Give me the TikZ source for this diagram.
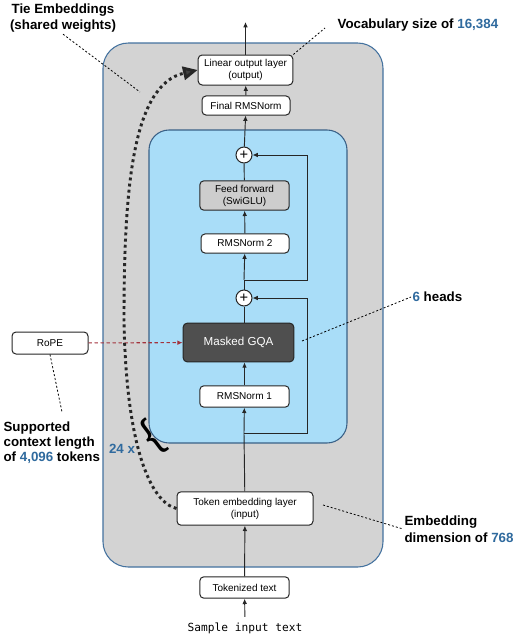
\documentclass[tikz,border=0pt]{standalone}
\usepackage{fontspec}
\setmainfont{Liberation Sans}
\setmonofont{DejaVu Sans Mono}
\usetikzlibrary{arrows.meta}

\definecolor{boxgray}{HTML}{D3D3D3}
\definecolor{blockblue}{HTML}{A9DDF8}
\definecolor{edgeblue}{HTML}{44729F}
\definecolor{numblue}{HTML}{2F6A9E}
\definecolor{gqagray}{HTML}{4F4F4F}
\definecolor{ffgray}{HTML}{CDCDCD}
\definecolor{ropered}{HTML}{A3323C}
\newcommand{\bluenum}[1]{\textcolor{numblue}{#1}}

\begin{document}
\begin{tikzpicture}[
	x 		= 0.75pt,
	y 		= -0.75pt,
	layer/.style 	= {draw=black!85, line width=0.75pt, fill=white, rounded corners=3pt,
		align=center, inner sep=1pt, font=\fontsize{7.5}{9}\selectfont},
	addnode/.style 	= {circle, draw=black!85, line width=0.75pt, fill=white,
		minimum size=12pt, inner sep=0pt, font=\fontsize{11}{11}\selectfont},
	flow/.style 	= {line width=0.7pt, draw=black!85, -{Latex[length=4pt,width=3.5pt]}},
	plain/.style 	= {line width=0.7pt, draw=black!85},
	note/.style 	= {inner sep=1pt, font=\fontsize{10}{12.5}\selectfont\bfseries},
	pointer/.style 	= {line width=0.6pt, dash pattern=on 1.5pt off 1.5pt},
	tie/.style 	= {line width=2.2pt, draw=black!85, dash pattern=on 2.2pt off 2.4pt,
		-{Triangle[length=11pt,width=10pt,fill=black!75]}}]
	
	\useasboundingbox (0,0) rectangle (519,640);
	\fill[white] (0,0) rectangle (519,640);
	
	\draw[fill=boxgray, draw=edgeblue, line width=0.8pt, rounded corners=19pt] (103,43) rectangle (383,567);
	\draw[fill=blockblue, draw=edgeblue!85!black, line width=0.8pt, rounded corners=15pt] (149,130) rectangle (347,443);
	
	\node[layer, minimum width=71pt, minimum height=22.5pt] (lin) at (245.5,70) {Linear output layer\\(output)};
	\node[layer, minimum width=66pt, minimum height=14.3pt] (fnorm) at (246,105.5) {Final RMSNorm};
	
	\node[addnode] (add1) at (244,155) {+};
	\node[layer, fill=ffgray, minimum width=67pt, minimum height=22pt] (ff) at (244.5,195.5) {Feed forward\\(SwiGLU)};
	\node[layer, minimum width=66pt, minimum height=14.3pt] (norm2) at (245,243.5) {RMSNorm 2};
	\node[addnode] (add2) at (244,298) {+};
	\node[layer, fill=gqagray, text=white, minimum width=83pt, minimum height=29pt,
		font=\fontsize{8.7}{10}\selectfont] (gqa) at (238.5,342.5) {Masked GQA};
	\node[layer, minimum width=67pt, minimum height=16pt] (norm1) at (244.5,396.5) {RMSNorm 1};
	
	\node[layer, minimum width=57pt, minimum height=16.5pt] (rope) at (50,343) {RoPE};
	
	\node[layer, minimum width=102pt, minimum height=25pt] (tokemb) at (245,508.5) {Token embedding layer\\(input)};
	\node[layer, minimum width=67pt, minimum height=16pt] (tokz) at (244.5,587.5) {Tokenized text};
	\node[inner sep=1pt, font=\ttfamily\fontsize{8.4}{10}\selectfont] (sample) at (245,628) {Sample input text};
	
	\coordinate (top) at (245.5,22);
	\coordinate (res2) at (244,280);
	\coordinate (skip2) at (307,280);
	\coordinate (res1) at (244,433);
	\coordinate (skip1) at (307,433);
	
	\draw[flow] (lin) -- (top);
	\draw[flow] (fnorm) -- (lin);
	\draw[flow] (add1) -- (fnorm);
	\draw[plain] (ff) -- (add1);
	\draw[flow] (norm2) -- (ff);
	\draw[flow] (res2) -- (norm2);
	\draw[plain] (add2) -- (res2);
	\draw[flow] (res2) -- (skip2) |- (add1);
	
	\draw[plain] (add2 |- gqa.north) -- (add2);
	\draw[flow] (norm1) -- (norm1 |- gqa.south);
	\draw[flow] (res1) -- (norm1);
	\draw[flow] (res1) -- (skip1) |- (add2);
	
	\draw[plain] (tokemb) -- (res1);
	\draw[flow] (tokz) -- (tokemb);
	\draw[flow, shorten <=3pt] (sample) -- (tokz);
	
	\draw[line width=0.8pt, draw=ropered, dash pattern=on 2.5pt off 2pt,
		-{Latex[length=4pt,width=3.5pt]}] (rope) -- (gqa);
	
	\draw[tie] (tokemb.west) .. controls (150,502) and (126,445) .. (124,320)
		.. controls (124,190) and (132,85) .. (lin.west);
	
	% annotations
	\node[note, align=center] (tiew) at (63,18) {Tie Embeddings\\(shared weights)};
	\node[note, anchor=west] (vocab) at (336,25) {Vocabulary size of \bluenum{16,384}};
	\node[note, anchor=west] (heads) at (411,297) {\bluenum{6} heads};
	\node[note, anchor=west, align=left] (embdim) at (403,529) {Embedding\\dimension of \bluenum{768}};
	\node[note, anchor=west, align=left, font=\fontsize{10}{11.3}\selectfont\bfseries] (ctx) at (2,443)
		{Supported\\context length\\of \bluenum{4,096} tokens};
	\node[note, text=numblue] (reps) at (122,449) {24 x};
	\node[rotate=37, inner sep=0pt, font=\fontsize{32}{32}\selectfont] (brace) at (153,437) {\{};
	
	\coordinate (tiept) at (140,92);
	\coordinate (vocabpt) at (325,28);
	\coordinate (headpt) at (302,341);
	\coordinate (embpt) at (323,505);
	\coordinate (ctxpt) at (62,412);
	
	\draw[pointer] (tiew.south) -- (tiept);
	\draw[pointer] (lin.north east) -- (vocabpt);
	\draw[pointer] (headpt) -- (heads.west);
	\draw[pointer] (embpt) -- (embdim.west);
	\draw[pointer] (rope.south) -- (ctxpt);
	
\end{tikzpicture}
\end{document}
